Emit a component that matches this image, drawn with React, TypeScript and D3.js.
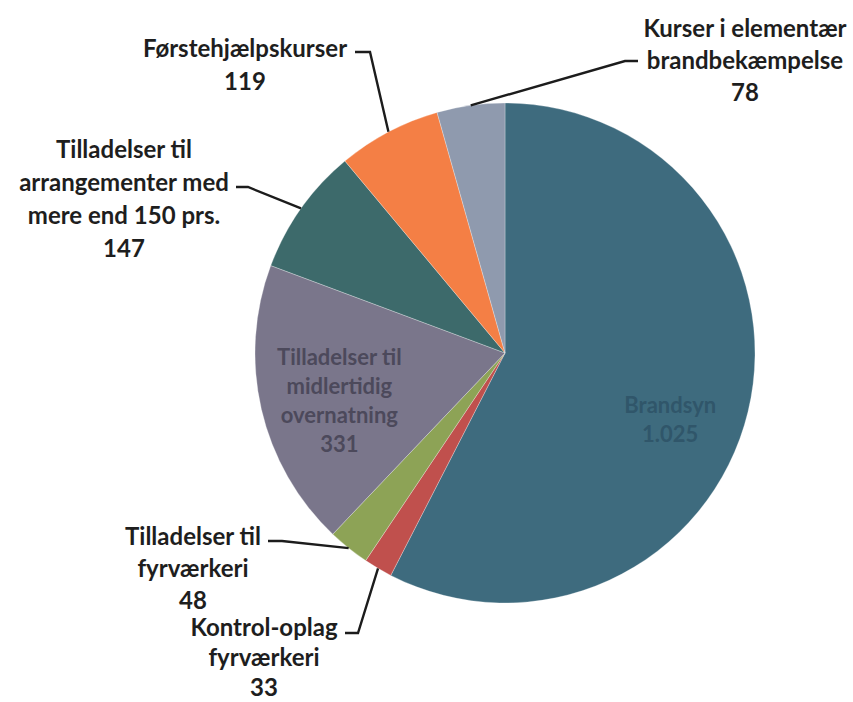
import * as d3 from 'd3';
import { useEffect, useRef } from 'react';

// slices, clockwise from 12 o'clock
const categories = [
  'Brandsyn',
  'Kontrol-oplag fyrværkeri',
  'Tilladelser til fyrværkeri',
  'Tilladelser til midlertidig overnatning',
  'Tilladelser til arrangementer med mere end 150 prs.',
  'Førstehjælpskurser',
  'Kurser i elementær brandbekæmpelse'
];
const values = [1025, 33, 48, 331, 147, 119, 78];
const labelLines = [
  ['Brandsyn'],
  ['Kontrol-oplag', 'fyrværkeri'],
  ['Tilladelser til', 'fyrværkeri'],
  ['Tilladelser til', 'midlertidig', 'overnatning'],
  ['Tilladelser til', 'arrangementer med', 'mere end 150 prs.'],
  ['Førstehjælpskurser'],
  ['Kurser i elementær', 'brandbekæmpelse']
];
const colors = ['#3e6b7e', '#c0504d', '#8da356', '#7a768b', '#3d6a6b', '#f47f45', '#8f9aae'];

// label placement (layout only)
const W = 853;
const H = 702;
const cx = 505;
const cy = 353;
const R = 250;
const FONT = 'Lato, Carlito, "Open Sans", sans-serif';
const FS = 24;

// inner: label sits on slice, dy shifts the text block; outer: text block with leader line
const labelLayout = [
  { inside: true, dy: 26, fill: '#30566a' },
  { inside: false, x: 264, y: 626, lh: 30, tick: [345, 358, 633] },
  { inside: false, x: 193, y: 535, lh: 32, tick: [268, 282, 541] },
  { inside: true, dy: 9, fill: '#4c495b' },
  { inside: false, x: 124, y: 148, lh: 33, tick: [236, 248, 187] },
  { inside: false, x: 245, y: 47, lh: 33, tick: [355, 370, 52] },
  { inside: false, x: 745, y: 27, lh: 32, tick: [638, 625, 61] }
];

const fmt = d3.formatLocale({ decimal: ',', thousands: '.', grouping: [3], currency: ['', ''] }).format(',d');

export default function App() {
  const svgRef = useRef<SVGSVGElement>(null);

  useEffect(() => {
    document.body.style.margin = '0';
    const svg = d3.select(svgRef.current);
    svg.selectAll('*').remove();

    const data = categories.map((c, i) => ({ name: c, value: values[i], i }));
    const pie = d3.pie<any>().sort(null).value(d => d.value).startAngle(0).endAngle(2 * Math.PI);
    const arcs = pie(data);
    const arc = d3.arc<any>().innerRadius(0).outerRadius(R);
    const labelArc = d3.arc<any>().innerRadius(R * 0.68).outerRadius(R * 0.68);

    const g = svg.append('g').attr('transform', `translate(${cx},${cy})`);

    g.selectAll('path.slice')
      .data(arcs)
      .join('path')
      .attr('class', 'slice')
      .attr('d', arc)
      .attr('fill', d => colors[d.data.i])
      .attr('stroke', '#ffffff')
      .attr('stroke-opacity', 0.35)
      .attr('stroke-width', 0.8);

    arcs.forEach(a => {
      const i = a.data.i;
      const lay: any = labelLayout[i];
      const lines = [...labelLines[i], fmt(values[i])];

      if (lay.inside) {
        const [px, py] = labelArc.centroid(a);
        const lh = 29;
        const top = py + lay.dy - ((lines.length - 1) * lh) / 2;
        const t = g
          .append('text')
          .attr('text-anchor', 'middle')
          .attr('font-family', FONT)
          .attr('font-weight', 700)
          .attr('font-size', FS - 2)
          .attr('fill', lay.fill);
        lines.forEach((l, k) => {
          t.append('tspan').attr('x', px).attr('y', top + k * lh).attr('dominant-baseline', 'central').text(l);
        });
        return;
      }

      // leader: short horizontal tick next to the text, then to the slice edge at its mid angle
      const mid = (a.startAngle + a.endAngle) / 2;
      const ex = cx + R * Math.sin(mid);
      const ey = cy - R * Math.cos(mid);
      const [x1, x2, ty] = lay.tick;
      svg
        .append('path')
        .attr('d', d3.line()([[x1, ty], [x2, ty], [ex, ey]]))
        .attr('fill', 'none')
        .attr('stroke', '#1c1c1c')
        .attr('stroke-width', 2.4);

      const t = svg
        .append('text')
        .attr('text-anchor', 'middle')
        .attr('font-family', FONT)
        .attr('font-weight', 700)
        .attr('font-size', FS)
        .attr('fill', '#1e1e1e');
      lines.forEach((l, k) => {
        t.append('tspan').attr('x', lay.x).attr('y', lay.y + k * lay.lh).attr('dominant-baseline', 'central').text(l);
      });
    });
  }, []);

  return <svg ref={svgRef} width={W} height={H} style={{ display: 'block', background: '#fff' }} />;
}
